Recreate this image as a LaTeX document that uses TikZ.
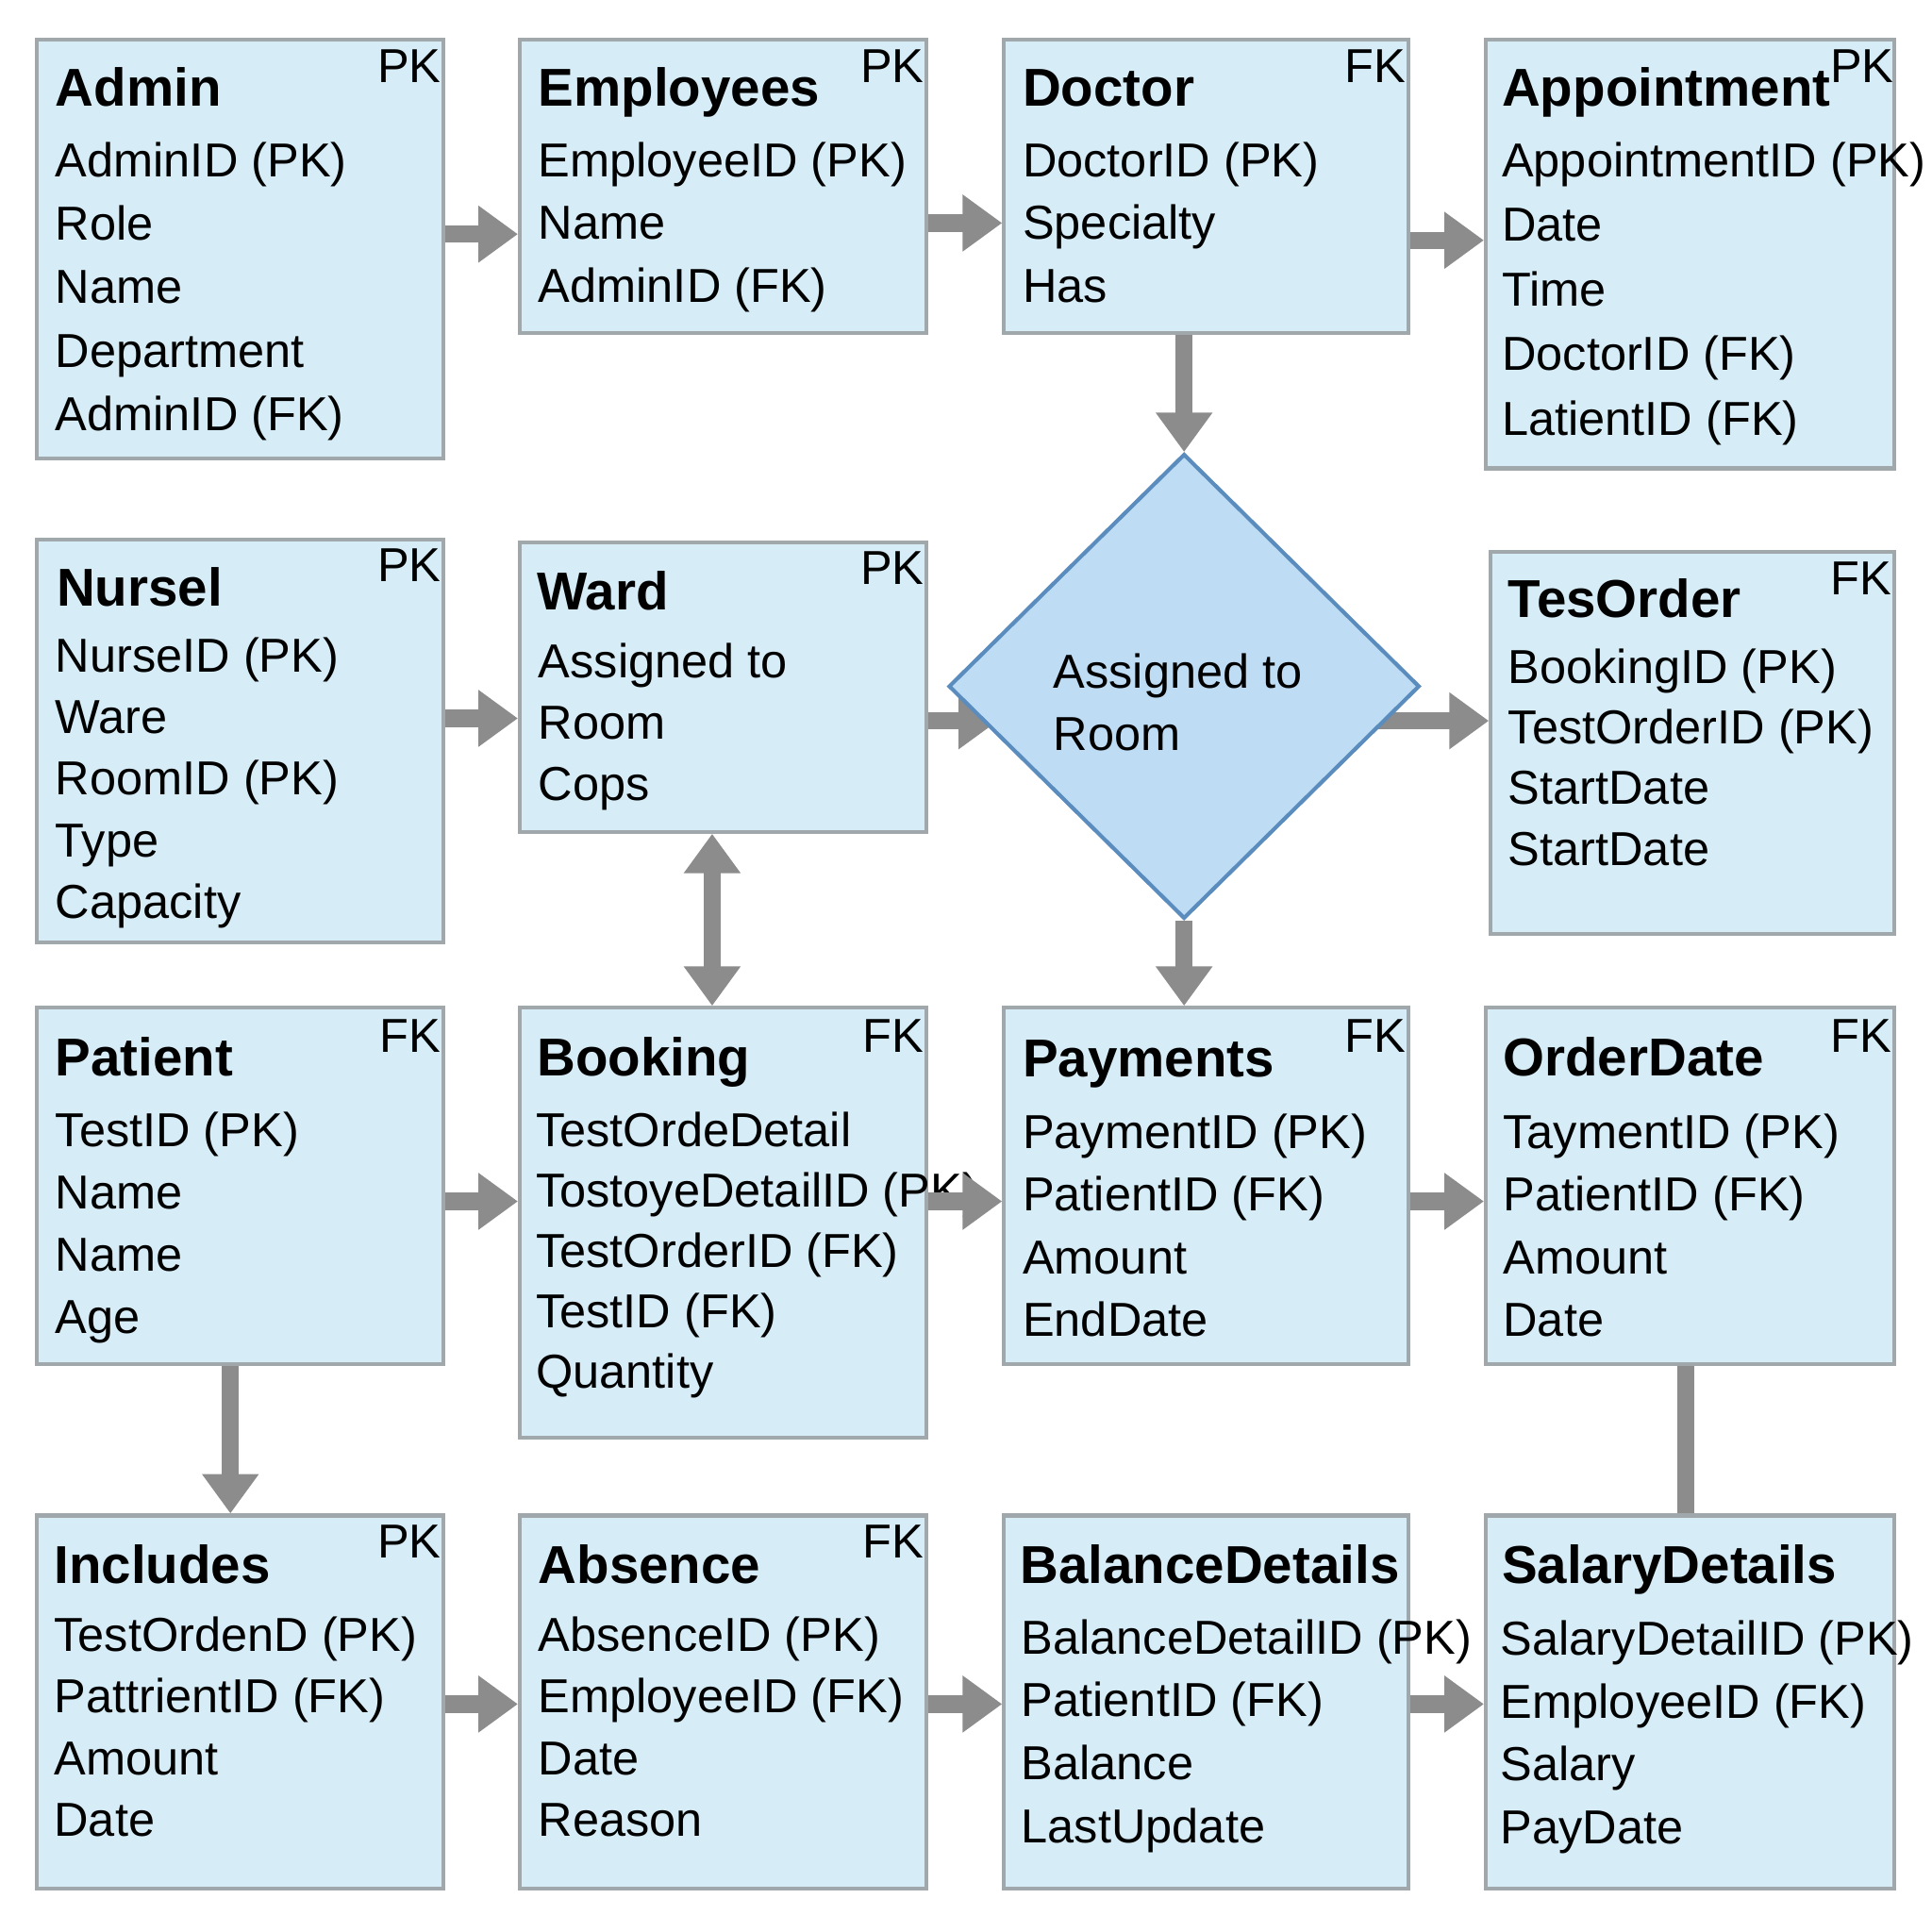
\documentclass[tikz,border=0pt]{standalone}
\usepackage{fontspec}
\setmainfont{Liberation Sans}
\usetikzlibrary{shapes.geometric,arrows.meta}

\definecolor{boxfill}{RGB}{214,236,247}
\definecolor{boxline}{RGB}{160,168,172}
\definecolor{diafill}{RGB}{190,220,244}
\definecolor{dialine}{RGB}{90,140,190}
\definecolor{arrowgray}{RGB}{140,140,140}

\tikzset{
	tabbox/.style={draw=boxline, fill=boxfill, line width=0.9pt, inner sep=0pt},
	tabtitle/.style={anchor=base west, inner sep=0pt, font=\fontsize{12.3}{14}\selectfont\bfseries},
	tabfield/.style={anchor=base west, inner sep=0pt, font=\fontsize{11}{13}\selectfont},
	tabkey/.style={anchor=base east, inner sep=0pt, font=\fontsize{11}{13}\selectfont},
	link/.style={draw=arrowgray, line width=0.14cm, -{Triangle[width=0.44cm,length=0.32cm]}},
	biglink/.style={draw=arrowgray, line width=0.14cm, {Triangle[width=0.44cm,length=0.32cm]}-{Triangle[width=0.44cm,length=0.32cm]}},
	plainlink/.style={draw=arrowgray, line width=0.14cm},
}

\begin{document}
\begin{tikzpicture}[x=0.01cm, y=-0.01cm]
			\fill[white] (0,0) rectangle (1568,1568);
			% row 1
			\node[tabbox, minimum width=3.30cm, minimum height=3.40cm] (admin) at (195,202) {};
			\node[tabtitle] (admin-t) at ([shift={(16,56)}]admin.north west) {Admin};
			\node[tabkey] (admin-k) at ([shift={(-3,37)}]admin.north east) {PK};
			\foreach \f [count=\i from 0] in {AdminID (PK), Role, Name, Department, AdminID (FK)}
				\node[tabfield] (admin-\i) at ([shift={(16,113+\i*51.5)}]admin.north west) {\f};

			\node[tabbox, minimum width=3.30cm, minimum height=2.38cm] (employees) at (587,151) {};
			\node[tabtitle] (employees-t) at ([shift={(16,56)}]employees.north west) {Employees};
			\node[tabkey] (employees-k) at ([shift={(-3,37)}]employees.north east) {PK};
			\foreach \f [count=\i from 0] in {EmployeeID (PK), Name, AdminID (FK)}
				\node[tabfield] (employees-\i) at ([shift={(16,113+\i*51)}]employees.north west) {\f};

			\node[tabbox, minimum width=3.28cm, minimum height=2.38cm] (doctor) at (979,151) {};
			\node[tabtitle] (doctor-t) at ([shift={(16,56)}]doctor.north west) {Doctor};
			\node[tabkey] (doctor-k) at ([shift={(-3,37)}]doctor.north east) {FK};
			\foreach \f [count=\i from 0] in {DoctorID (PK), Specialty, Has}
				\node[tabfield] (doctor-\i) at ([shift={(16,113+\i*51)}]doctor.north west) {\f};

			\node[tabbox, minimum width=3.31cm, minimum height=3.48cm] (appointment) at (1371.5,206) {};
			\node[tabtitle] (appointment-t) at ([shift={(14,56)}]appointment.north west) {Appointment};
			\node[tabkey] (appointment-k) at ([shift={(-1,37)}]appointment.north east) {PK};
			\foreach \f [count=\i from 0] in {AppointmentID (PK), Date, Time, DoctorID (FK), LatientID (FK)}
				\node[tabfield] (appointment-\i) at ([shift={(14,113+\i*52.5)}]appointment.north west) {\f};

			% row 2
			\node[tabbox, minimum width=3.30cm, minimum height=3.27cm] (nursel) at (195,601.5) {};
			\node[tabtitle] (nursel-t) at ([shift={(17,55.5)}]nursel.north west) {Nursel};
			\node[tabkey] (nursel-k) at ([shift={(-3,36)}]nursel.north east) {PK};
			\foreach \f [count=\i from 0] in {NurseID (PK), Ware, RoomID (PK), Type, Capacity}
				\node[tabfield] (nursel-\i) at ([shift={(16,109+\i*50)}]nursel.north west) {\f};

			\node[tabbox, minimum width=3.30cm, minimum height=2.35cm] (ward) at (587,557.5) {};
			\node[tabtitle] (ward-t) at ([shift={(15,56.5)}]ward.north west) {Ward};
			\node[tabkey] (ward-k) at ([shift={(-3,36)}]ward.north east) {PK};
			\foreach \f [count=\i from 0] in {Assigned to, Room, Cops}
				\node[tabfield] (ward-\i) at ([shift={(16,112+\i*49.5)}]ward.north west) {\f};

			\node[tabbox, minimum width=3.27cm, minimum height=3.10cm] (tesorder) at (1373.5,603) {};
			\node[tabtitle] (tesorder-t) at ([shift={(15,54.5)}]tesorder.north west) {TesOrder};
			\node[tabkey] (tesorder-k) at ([shift={(-3,36)}]tesorder.north east) {FK};
			\foreach \f [count=\i from 0] in {BookingID (PK), TestOrderID (PK), StartDate, StartDate}
				\node[tabfield] (tesorder-\i) at ([shift={(15,108+\i*49.3)}]tesorder.north west) {\f};

			% row 3
			\node[tabbox, minimum width=3.30cm, minimum height=2.89cm] (patient) at (195,962.5) {};
			\node[tabtitle] (patient-t) at ([shift={(16,56.5)}]patient.north west) {Patient};
			\node[tabkey] (patient-k) at ([shift={(-3,38)}]patient.north east) {FK};
			\foreach \f [count=\i from 0] in {TestID (PK), Name, Name, Age}
				\node[tabfield] (patient-\i) at ([shift={(16,114+\i*50.7)}]patient.north west) {\f};

			\node[tabbox, minimum width=3.30cm, minimum height=3.49cm] (booking) at (587,992.5) {};
			\node[tabtitle] (booking-t) at ([shift={(15,56.5)}]booking.north west) {Booking};
			\node[tabkey] (booking-k) at ([shift={(-3,38)}]booking.north east) {FK};
			\foreach \f [count=\i from 0] in {TestOrdeDetail, TostoyeDetailID (PK), TestOrderID (FK), TestID (FK), Quantity}
				\node[tabfield] (booking-\i) at ([shift={(14,114+\i*49)}]booking.north west) {\f};

			\node[tabbox, minimum width=3.28cm, minimum height=2.89cm] (payments) at (979,962.5) {};
			\node[tabtitle] (payments-t) at ([shift={(16,57.5)}]payments.north west) {Payments};
			\node[tabkey] (payments-k) at ([shift={(-3,38)}]payments.north east) {FK};
			\foreach \f [count=\i from 0] in {PaymentID (PK), PatientID (FK), Amount, EndDate}
				\node[tabfield] (payments-\i) at ([shift={(16,116+\i*50.7)}]payments.north west) {\f};

			\node[tabbox, minimum width=3.31cm, minimum height=2.89cm] (orderdate) at (1371.5,962.5) {};
			\node[tabtitle] (orderdate-t) at ([shift={(15,56.5)}]orderdate.north west) {OrderDate};
			\node[tabkey] (orderdate-k) at ([shift={(-3,38)}]orderdate.north east) {FK};
			\foreach \f [count=\i from 0] in {TaymentID (PK), PatientID (FK), Amount, Date}
				\node[tabfield] (orderdate-\i) at ([shift={(15,116+\i*50.7)}]orderdate.north west) {\f};

			% row 4
			\node[tabbox, minimum width=3.30cm, minimum height=3.03cm] (includes) at (195,1381.5) {};
			\node[tabtitle] (includes-t) at ([shift={(15,56.5)}]includes.north west) {Includes};
			\node[tabkey] (includes-k) at ([shift={(-3,36)}]includes.north east) {PK};
			\foreach \f [count=\i from 0] in {TestOrdenD (PK), PattrientID (FK), Amount, Date}
				\node[tabfield] (includes-\i) at ([shift={(15,112+\i*50)}]includes.north west) {\f};

			\node[tabbox, minimum width=3.30cm, minimum height=3.03cm] (absence) at (587,1381.5) {};
			\node[tabtitle] (absence-t) at ([shift={(16,56.5)}]absence.north west) {Absence};
			\node[tabkey] (absence-k) at ([shift={(-3,36)}]absence.north east) {FK};
			\foreach \f [count=\i from 0] in {AbsenceID (PK), EmployeeID (FK), Date, Reason}
				\node[tabfield] (absence-\i) at ([shift={(16,112+\i*50)}]absence.north west) {\f};

			\node[tabbox, minimum width=3.28cm, minimum height=3.03cm] (balance) at (979,1381.5) {};
			\node[tabtitle] (balance-t) at ([shift={(14,56.5)}]balance.north west) {BalanceDetails};
			\foreach \f [count=\i from 0] in {BalanceDetailID (PK), PatientID (FK), Balance, LastUpdate}
				\node[tabfield] (balance-\i) at ([shift={(15,114+\i*51)}]balance.north west) {\f};

			\node[tabbox, minimum width=3.31cm, minimum height=3.03cm] (salary) at (1371.5,1381.5) {};
			\node[tabtitle] (salary-t) at ([shift={(14,56.5)}]salary.north west) {SalaryDetails};
			\foreach \f [count=\i from 0] in {SalaryDetailID (PK), EmployeeID (FK), Salary, PayDate}
				\node[tabfield] (salary-\i) at ([shift={(13,115+\i*51)}]salary.north west) {\f};

			% connectors
			\draw[link] (admin.east |- 0,190) -- (employees.west |- 0,190);
			\draw[link] (employees.east |- 0,181) -- (doctor.west |- 0,181);
			\draw[link] (doctor.east |- 0,195) -- (appointment.west |- 0,195);
			\draw[link] (nursel.east |- 0,583) -- (ward.west |- 0,583);
			\coordinate (assign-in) at (810,585);
			\coordinate (assign-out) at (1115,585);
			\draw[link] (ward.east |- 0,585) -- (assign-in);
			\draw[link] (assign-out) -- (tesorder.west |- 0,585);
			\draw[biglink] (ward.south -| 578,0) -- (booking.north -| 578,0);
			\draw[link] (patient.east |- 0,975) -- (booking.west |- 0,975);
			\draw[link] (booking.east |- 0,975) -- (payments.west |- 0,975);
			\draw[link] (payments.east |- 0,975) -- (orderdate.west |- 0,975);
			\draw[link] (patient.south -| 187,0) -- (includes.north -| 187,0);
			\draw[plainlink] (orderdate.south -| 1368,0) -- (salary.north -| 1368,0);
			\draw[link] (includes.east |- 0,1383) -- (absence.west |- 0,1383);
			\draw[link] (absence.east |- 0,1383) -- (balance.west |- 0,1383);
			\draw[link] (balance.east |- 0,1383) -- (salary.west |- 0,1383);

			% relationship
			\node[diamond, draw=dialine, fill=diafill, line width=0.9pt, inner sep=0pt, minimum width=3.82cm, minimum height=3.77cm] (assign) at (961,557) {};
			\node[align=left, inner sep=0pt, font=\fontsize{11}{14.5}\selectfont] (assign-t) at (956,570) {Assigned to\\Room};
			\draw[link] (assign.north |- doctor.south) -- (assign.north);
			\draw[link] (assign.south) -- (payments.north -| assign.south);
		\end{tikzpicture}
\end{document}
